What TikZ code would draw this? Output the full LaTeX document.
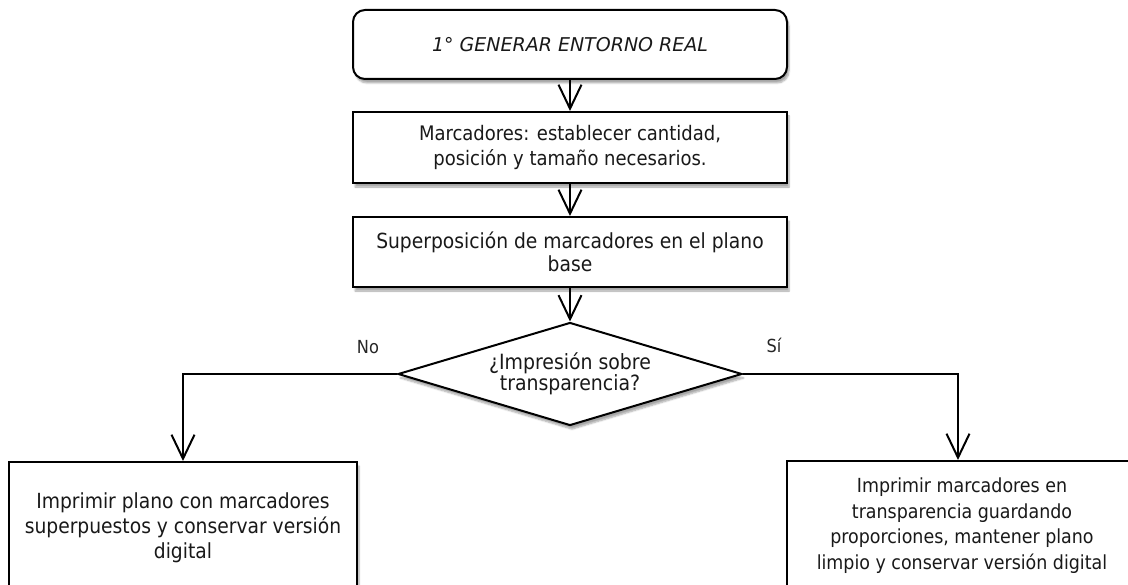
\documentclass[tikz,border=0pt]{standalone}
\usepackage{fontspec}
\newfontfamily\tahoma{DejaVu Sans Condensed}
\newfontfamily\tahomaw{DejaVu Sans}
\usetikzlibrary{arrows.meta,shapes.geometric,shadows.blur}
\tikzset{
  base/.style={draw=black, line width=2pt, fill=white, align=center, text=black!90,
    font=\tahoma\fontsize{21}{24}\selectfont, inner sep=0pt,
    blur shadow={shadow xshift=2pt, shadow yshift=-4pt, shadow blur steps=6, shadow opacity=35}},
  procbox/.style={base, rectangle},
  startbox/.style={base, rectangle, rounded corners=12pt},
  decbox/.style={base, diamond, aspect=3.34},
  lbl/.style={font=\tahoma\fontsize{18}{20}\selectfont, text=black!85, inner sep=0pt},
  arr/.style={line width=2.2pt, -{Straight Barb[length=24pt, width=23pt, line width=2pt]}}
}
\begin{document}
\begin{tikzpicture}[x=1pt, y=-1pt]
\useasboundingbox (0,0) rectangle (1128,585);
\clip (0,0) rectangle (1128,585);
\node[startbox, minimum width=434pt, minimum height=69pt, font=\tahomaw\fontsize{19}{24}\selectfont] (top) at (570,44.5)
  {\itshape 1° GENERAR ENTORNO REAL};
\node[procbox, minimum width=434pt, minimum height=71pt, font=\tahoma\fontsize{20}{24.5}\selectfont] (m1) at (570,147.5)
  {Marcadores: establecer cantidad,\\posición y tamaño necesarios.};
\node[procbox, minimum width=434pt, minimum height=70pt, font=\tahoma\fontsize{20.8}{23}\selectfont] (m2) at (570,252)
  {Superposición de marcadores en el plano\\base};
\node[decbox, minimum width=344pt, minimum height=103pt, font=\tahoma\fontsize{21}{21.5}\selectfont] (d) at (570,374)
  {¿Impresión sobre\\transparencia?};
\node[procbox, anchor=north west, minimum width=348pt, minimum height=132pt, font=\tahoma\fontsize{20.8}{25}\selectfont] (lb) at (8,461)
  {Imprimir plano con marcadores\\superpuestos y conservar versión\\digital};
\node[procbox, anchor=north west, minimum width=350pt, minimum height=129pt, font=\tahoma\fontsize{19.4}{25.5}\selectfont] (rb) at (786,460)
  {Imprimir marcadores en\\transparencia guardando\\proporciones, mantener plano\\limpio y conservar versión digital};
\node[lbl] (no) at (368,347) {No};
\node[lbl] (si) at (774,345) {Sí};
\draw[arr] (top.south) -- (m1.north);
\draw[arr] (m1.south) -- (m2.north);
\draw[arr] (m2.south) -- (d.north);
\draw[arr] (d.west) -| (lb.north);
\draw[arr] (d.east) -| ([xshift=-4pt]rb.north);
\end{tikzpicture}
\end{document}
